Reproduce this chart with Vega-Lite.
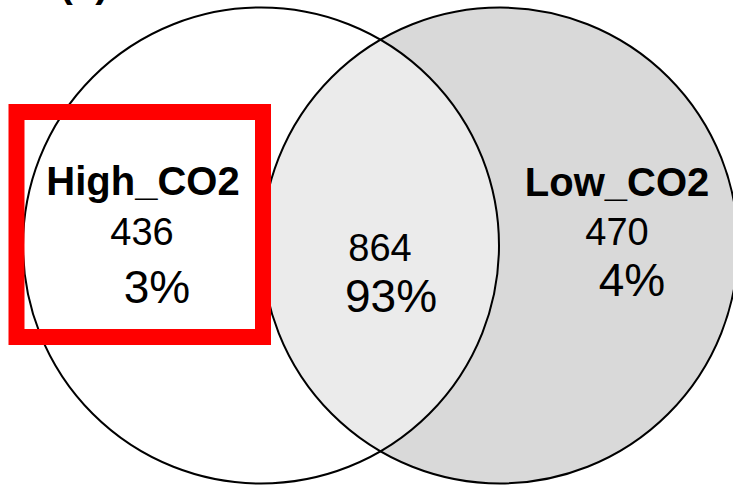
{
  "$schema": "https://vega.github.io/schema/vega-lite/v6.json",
  "width": 733,
  "height": 488,
  "autosize": {"type": "none"},
  "padding": 0,
  "background": "white",
  "config": {"view": {"stroke": null}, "font": "Liberation Sans"},
  "datasets": {
    "sets": [
      {"set": "High_CO2", "x": 261, "y": 245.5},
      {"set": "Low_CO2", "x": 500, "y": 245.5}
    ],
    "highlight": [
      {"target": "High_CO2", "x": 16.5, "x2": 263, "y": 112, "y2": 337}
    ],
    "labels": [
      {"region": "panel", "line": "panel", "text": "(a)", "x": 84, "y": -3},
      {"region": "High_CO2", "line": "name", "text": "High_CO2", "x": 143, "y": 195},
      {"region": "High_CO2", "line": "count", "text": "436", "x": 142, "y": 245},
      {"region": "High_CO2", "line": "pct", "text": "3%", "x": 157, "y": 303},
      {"region": "Both", "line": "count", "text": "864", "x": 380, "y": 261},
      {"region": "Both", "line": "pct", "text": "93%", "x": 391, "y": 312},
      {"region": "Low_CO2", "line": "name", "text": "Low_CO2", "x": 617, "y": 196},
      {"region": "Low_CO2", "line": "count", "text": "470", "x": 617, "y": 245},
      {"region": "Low_CO2", "line": "pct", "text": "4%", "x": 632, "y": 296}
    ]
  },
  "encoding": {
    "x": {"field": "x", "type": "quantitative", "scale": {"domain": [0, 733], "nice": false, "zero": false}, "axis": null},
    "y": {"field": "y", "type": "quantitative", "scale": {"domain": [0, 488], "reverse": true, "nice": false, "zero": false}, "axis": null}
  },
  "layer": [
    {
      "data": {"name": "sets"},
      "transform": [{"filter": "datum.set === 'Low_CO2'"}],
      "mark": {"type": "point", "shape": "circle", "filled": true, "fill": "#d9d9d9", "size": 226576, "opacity": 1, "strokeWidth": 0}
    },
    {
      "data": {"name": "sets"},
      "transform": [{"filter": "datum.set === 'High_CO2'"}],
      "mark": {"type": "point", "shape": "circle", "filled": true, "fill": "#ffffff", "fillOpacity": 0.4737, "size": 226576, "opacity": 1, "strokeWidth": 0}
    },
    {
      "data": {"name": "sets"},
      "mark": {"type": "point", "shape": "circle", "filled": false, "stroke": "#000000", "strokeWidth": 2, "size": 226576, "opacity": 1}
    },
    {
      "data": {"name": "highlight"},
      "mark": {"type": "rect", "fill": "#ffffff", "fillOpacity": 0, "stroke": "#ff0000", "strokeWidth": 16},
      "encoding": {
        "x2": {"field": "x2"},
        "y2": {"field": "y2"}
      }
    },
    {
      "data": {"name": "labels"},
      "transform": [{"filter": "datum.line === 'name' || datum.line === 'panel'"}],
      "mark": {"type": "text", "font": "Liberation Sans", "fontWeight": "bold", "fontSize": 40, "align": "center", "baseline": "alphabetic", "color": "#000000"},
      "encoding": {"text": {"field": "text"}}
    },
    {
      "data": {"name": "labels"},
      "transform": [{"filter": "datum.line === 'count'"}],
      "mark": {"type": "text", "font": "Liberation Sans", "fontSize": 38, "align": "center", "baseline": "alphabetic", "color": "#000000"},
      "encoding": {"text": {"field": "text"}}
    },
    {
      "data": {"name": "labels"},
      "transform": [{"filter": "datum.line === 'pct'"}],
      "mark": {"type": "text", "font": "Liberation Sans", "fontSize": 46, "align": "center", "baseline": "alphabetic", "color": "#000000"},
      "encoding": {"text": {"field": "text"}}
    }
  ]
}
